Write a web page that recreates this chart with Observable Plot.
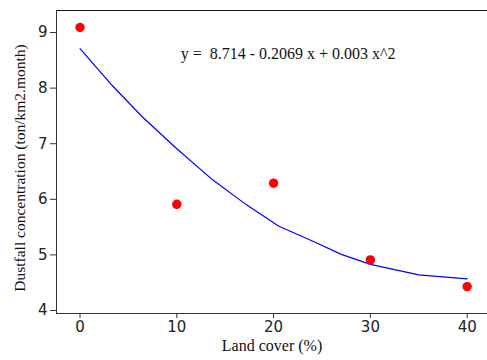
<!DOCTYPE html>
<html>
<head>
<meta charset="utf-8">
<script src="https://cdn.jsdelivr.net/npm/d3@7"></script>
<script src="https://cdn.jsdelivr.net/npm/@observablehq/plot@0.6"></script>
<style>
  html, body { margin: 0; padding: 0; background: #fff; }
</style>
</head>
<body>
<div id="chart"></div>
<script>
const landCover = [0, 10, 20, 30, 40];
const dustfall = [9.09, 5.91, 6.29, 4.91, 4.43];
const fitX = [0, 3.2, 6.4, 10, 13.7, 17.2, 20.5, 24, 27, 30, 35, 40];
const fitY = [8.71, 8.07, 7.49, 6.91, 6.35, 5.9, 5.52, 5.25, 5.01, 4.83, 4.64, 4.57];
const xTicks = [0, 10, 20, 30, 40];
const yTicks = [4, 5, 6, 7, 8, 9];
const equation = "y =  8.714 - 0.2069 x + 0.003 x^2";
const xLabel = "Land cover (%)";
const yLabel = "Dustfall concentration (ton/km2.month)";

const xDomain = [-2.43, 42.1];
const yDomain = [3.946, 9.396];

const points = landCover.map((x, i) => ({x, y: dustfall[i]}));
const fit = fitX.map((x, i) => ({x, y: fitY[i]}));

const serif = "'Liberation Serif', 'Times New Roman', serif";

const chart = Plot.plot({
  width: 487,
  height: 360,
  marginLeft: 56,
  marginRight: 0,
  marginTop: 10,
  marginBottom: 47,
  style: {background: "#fff", fontFamily: "'DejaVu Sans', sans-serif", fontSize: "15px", color: "#222"},
  x: {domain: xDomain},
  y: {domain: yDomain},
  marks: [
    Plot.ruleY([yDomain[0]], {stroke: "#333", strokeWidth: 1}),
    Plot.ruleY([yDomain[1]], {stroke: "#111", strokeWidth: 1}),
    Plot.ruleX([xDomain[0]], {stroke: "#333", strokeWidth: 1}),
    Plot.axisX({ticks: xTicks, tickFormat: d3.format("d"), tickSize: 5, tickPadding: 3, label: null, fontSize: 15, stroke: "#333"}),
    Plot.axisY({ticks: yTicks, tickFormat: d3.format("d"), tickSize: 6, tickPadding: 3, label: null, fontSize: 15, stroke: "#333"}),
    Plot.line(fit, {x: "x", y: "y", stroke: "#0000ff", strokeWidth: 1.2}),
    Plot.dot(points, {x: "x", y: "y", r: 4.7, fill: "#ff0000", stroke: "none"}),
    Plot.text([equation], {x: 10.4, y: 8.62, text: d => d, textAnchor: "start", fontSize: 16, fontFamily: serif, fill: "#111"}),
    Plot.text([xLabel], {frameAnchor: "bottom", dy: 37, text: d => d, textAnchor: "middle", fontSize: 16, fontFamily: serif, fill: "#111"}),
    Plot.text([yLabel], {frameAnchor: "left", dx: -36, dy: 6, rotate: -90, text: d => d, textAnchor: "middle", fontSize: 15.5, fontFamily: serif, fill: "#111"})
  ]
});
document.getElementById("chart").appendChild(chart);
</script>
</body>
</html>
